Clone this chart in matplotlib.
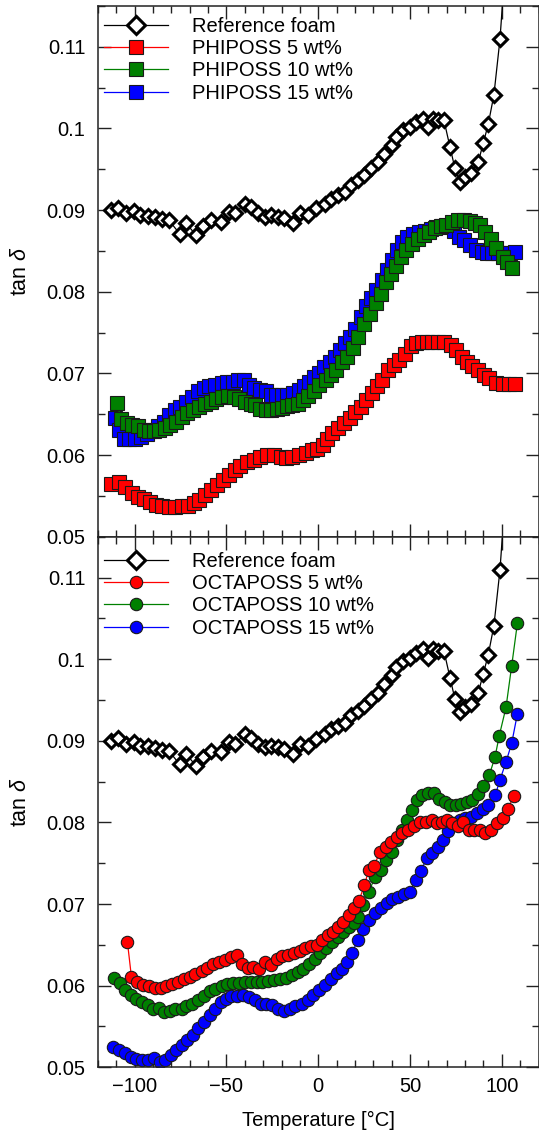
import matplotlib
matplotlib.use('Agg')
import matplotlib.pyplot as plt
from matplotlib.ticker import MultipleLocator, FuncFormatter

plt.rcParams['font.family'] = ['Liberation Sans', 'DejaVu Sans']
plt.rcParams['mathtext.fontset'] = 'custom'
plt.rcParams['mathtext.it'] = 'Liberation Sans:italic'
plt.rcParams['mathtext.rm'] = 'Liberation Sans'

# ---------------- data ----------------
x_ref = [-113, -109, -105, -100.5, -97, -93, -89, -85, -81.5, -75.5, -72, -66.5, -63, -58.5, -53,
         -48.5, -45.5, -40, -36.5, -33, -29, -25.5, -22, -18.5, -14, -10, -5.5, -1, 3.5, 7,
         10.5, 14.5, 18, 21.5, 25, 29, 32.5, 36, 40, 42.5, 46, 50, 53.5, 57, 60,
         62.5, 65, 68.5, 71.8, 74.5, 77.2, 80.0, 83.0, 87.2, 89.9, 92.6, 95.7, 99.0, 102.5]
y_ref = [0.0900, 0.0903, 0.0896, 0.0899, 0.0894, 0.0893, 0.0891, 0.0889, 0.0888, 0.0871, 0.0884, 0.0869, 0.0880, 0.0888, 0.0886,
         0.0898, 0.0896, 0.0908, 0.0904, 0.0896, 0.0892, 0.0894, 0.0892, 0.0890, 0.0884, 0.0896, 0.0894, 0.0902, 0.0908, 0.0914,
         0.0918, 0.0922, 0.0931, 0.0937, 0.0943, 0.0951, 0.0959, 0.0969, 0.0980, 0.0990, 0.0998, 0.1002, 0.1008, 0.1012, 0.1002,
         0.1012, 0.1010, 0.1010, 0.0977, 0.0951, 0.0935, 0.0941, 0.0945, 0.0959, 0.0982, 0.1005, 0.1041, 0.1109, 0.1220]

x_p5 = [-112.7, -108.7, -105.1, -101.5, -98.2, -95.1, -91.5, -88.4, -85.1, -81.5,
        -77.8, -74.2, -70.9, -67.8, -64.7, -61.5, -58.2, -55.1, -52.0, -48.7,
        -45.5, -42.4, -38.7, -35.1, -31.5, -27.8, -24.2, -20.5, -17.5, -14.2,
        -10.5, -6.9, -3.6, -0.5, 2.5, 4.9, 7.6, 10.9, 14.0, 17.1,
        20.0, 23.1, 25.8, 29.1, 32.2, 34.9, 38.2, 41.3, 44.0, 47.3,
        50.4, 53.1, 56.4, 59.5, 62.2, 65.5, 68.5, 72.2, 75.3, 78.5,
        81.3, 84.0, 87.3, 90.4, 93.1, 96.7, 100.4, 104.0, 107.3]
y_p5 = [0.0565, 0.0567, 0.0561, 0.0553, 0.0549, 0.0546, 0.0543, 0.0539, 0.0537, 0.0536,
        0.0536, 0.0537, 0.0538, 0.0541, 0.0545, 0.0551, 0.0557, 0.0563, 0.0569, 0.0576,
        0.0582, 0.0587, 0.0591, 0.0594, 0.0598, 0.0600, 0.0600, 0.0598, 0.0597, 0.0598,
        0.0600, 0.0603, 0.0606, 0.0608, 0.0612, 0.0620, 0.0627, 0.0633, 0.0639, 0.0645,
        0.0653, 0.0659, 0.0667, 0.0676, 0.0684, 0.0692, 0.0704, 0.0710, 0.0716, 0.0724,
        0.0733, 0.0737, 0.0739, 0.0739, 0.0739, 0.0738, 0.0738, 0.0735, 0.0729, 0.0720,
        0.0714, 0.0709, 0.0704, 0.0698, 0.0694, 0.0688, 0.0687, 0.0687, 0.0687]

x_p10 = [-109.8, -107.3, -104.2, -101.5, -98.2, -95.1, -92.4, -89.6, -86.5, -83.6,
         -80.5, -77.5, -74.5, -71.5, -68.4, -65.1, -61.8, -58.7, -55.6, -52.4,
         -49.1, -46.0, -43.3, -40.0, -36.9, -34.2, -31.5, -28.7, -25.5, -22.4,
         -19.6, -17.1, -14.2, -11.1, -8.4, -5.5, -2.4, 0.4, 4.0, 6.7,
         9.8, 13.1, 15.8, 18.9, 21.8, 24.9, 28.0, 31.3, 34.3, 36.7,
         39.5, 42.2, 44.9, 47.6, 51.3, 54.5, 57.6, 60.4, 63.6, 66.7,
         69.8, 73.1, 76.4, 79.5, 82.5, 85.5, 88.0, 90.9, 94.0, 97.1,
         100.4, 103.1, 105.8]
y_p10 = [0.0664, 0.0644, 0.0639, 0.0637, 0.0635, 0.0631, 0.0629, 0.0629, 0.0631, 0.0633,
         0.0637, 0.0641, 0.0647, 0.0651, 0.0655, 0.0659, 0.0662, 0.0665, 0.0669, 0.0671,
         0.0672, 0.0671, 0.0669, 0.0665, 0.0662, 0.0661, 0.0656, 0.0655, 0.0655, 0.0657,
         0.0658, 0.0660, 0.0661, 0.0663, 0.0667, 0.0672, 0.0679, 0.0686, 0.0692, 0.0698,
         0.0704, 0.0714, 0.0720, 0.0731, 0.0745, 0.0761, 0.0773, 0.0786, 0.0797, 0.0812,
         0.0822, 0.0831, 0.0843, 0.0851, 0.0859, 0.0865, 0.0869, 0.0873, 0.0878, 0.0880,
         0.0882, 0.0886, 0.0888, 0.0888, 0.0887, 0.0884, 0.0882, 0.0873, 0.0865, 0.0853,
         0.0843, 0.0837, 0.0829]

x_p15 = [-110.5, -108.7, -106.0, -102.9, -99.6, -96.4, -93.3, -90.2, -87.3, -84.2,
         -81.1, -78.2, -75.1, -72.0, -68.7, -65.5, -62.4, -59.3, -56.0, -52.7,
         -49.6, -46.5, -43.6, -40.5, -37.8, -35.1, -32.0, -28.7, -26.0, -22.9,
         -20.0, -16.9, -13.8, -10.5, -7.8, -5.1, -2.4, 0.4, 3.3, 6.2,
         9.1, 11.6, 14.5, 17.1, 20.0, 23.1, 25.8, 28.5, 31.3, 34.5,
         37.6, 40.4, 43.1, 45.8, 48.5, 51.6, 54.9, 58.2, 61.3, 64.4,
         67.6, 70.9, 74.0, 76.7, 79.5, 82.5, 85.8, 89.1, 92.2, 94.9,
         98.2, 101.3, 104.3, 107.3]
y_p15 = [0.0645, 0.0631, 0.0620, 0.0620, 0.0620, 0.0622, 0.0626, 0.0631, 0.0635, 0.0641,
         0.0649, 0.0655, 0.0659, 0.0665, 0.0671, 0.0678, 0.0682, 0.0684, 0.0686, 0.0688,
         0.0689, 0.0690, 0.0692, 0.0692, 0.0686, 0.0682, 0.0680, 0.0678, 0.0673, 0.0673,
         0.0673, 0.0674, 0.0676, 0.0680, 0.0684, 0.0690, 0.0695, 0.0701, 0.0708, 0.0714,
         0.0720, 0.0729, 0.0737, 0.0745, 0.0755, 0.0769, 0.0782, 0.0792, 0.0802, 0.0814,
         0.0827, 0.0839, 0.0851, 0.0861, 0.0867, 0.0871, 0.0873, 0.0875, 0.0877, 0.0879,
         0.0880, 0.0879, 0.0874, 0.0867, 0.0863, 0.0857, 0.0851, 0.0849, 0.0847, 0.0847,
         0.0847, 0.0847, 0.0848, 0.0849]

x_o5 = [-104.0, -101.8, -98.5, -95.5, -92.4, -89.1, -85.8, -82.7, -79.6, -76.4,
        -73.1, -70.0, -66.9, -63.6, -60.4, -57.3, -54.2, -50.9, -47.6, -44.0,
        -41.5, -38.2, -35.5, -32.4, -29.1, -25.8, -22.7, -19.6, -16.4, -13.1,
        -10.0, -7.3, -4.0, -0.9, 1.8, 5.1, 8.2, 10.9, 13.6, 16.7,
        19.6, 22.2, 25.1, 27.6, 30.5, 33.6, 36.7, 39.6, 42.7, 45.8,
        49.1, 52.4, 55.5, 58.5, 61.8, 64.5, 67.3, 70.0, 73.1, 76.4,
        79.1, 82.2, 85.1, 88.2, 90.9, 94.2, 97.3, 100.4, 103.3, 106.4]
y_o5 = [0.0654, 0.0611, 0.0605, 0.0601, 0.0599, 0.0597, 0.0597, 0.0599, 0.0602, 0.0605,
        0.0608, 0.0611, 0.0614, 0.0618, 0.0622, 0.0627, 0.0629, 0.0632, 0.0635, 0.0638,
        0.0627, 0.0622, 0.0623, 0.0620, 0.0629, 0.0625, 0.0633, 0.0636, 0.0638, 0.0640,
        0.0643, 0.0646, 0.0648, 0.0650, 0.0656, 0.0662, 0.0666, 0.0672, 0.0678, 0.0687,
        0.0695, 0.0704, 0.0723, 0.0742, 0.0747, 0.0764, 0.0770, 0.0776, 0.0782, 0.0787,
        0.0791, 0.0795, 0.0801, 0.0801, 0.0803, 0.0799, 0.0801, 0.0803, 0.0799, 0.0795,
        0.0801, 0.0791, 0.0791, 0.0791, 0.0787, 0.0791, 0.0799, 0.0805, 0.0816, 0.0832]

x_o10 = [-111.3, -108.2, -105.1, -102.2, -99.1, -96.0, -92.7, -90.0, -86.9, -84.0,
         -80.9, -77.8, -74.5, -71.8, -68.7, -65.5, -62.2, -59.1, -56.0, -52.7,
         -49.5, -46.4, -43.3, -40.0, -36.7, -33.6, -30.5, -27.3, -24.0, -20.9,
         -17.8, -14.5, -11.3, -8.2, -5.1, -1.8, 0.9, 4.0, 7.3, 10.5,
         13.6, 16.7, 19.6, 21.5, 24.5, 27.6, 30.9, 34.2, 36.7, 40.0,
         42.7, 45.5, 48.2, 50.9, 53.6, 56.7, 60.0, 63.3, 65.8, 69.1,
         71.8, 74.9, 77.8, 80.9, 83.6, 86.9, 90.0, 93.2, 96.3, 98.6,
         102.3, 105.4, 108.5]
y_o10 = [0.0610, 0.0603, 0.0595, 0.0589, 0.0584, 0.0580, 0.0576, 0.0572, 0.0573, 0.0568,
         0.0569, 0.0571, 0.0572, 0.0575, 0.0578, 0.0582, 0.0587, 0.0593, 0.0596, 0.0599,
         0.0602, 0.0603, 0.0603, 0.0604, 0.0605, 0.0605, 0.0605, 0.0606, 0.0607, 0.0608,
         0.0610, 0.0613, 0.0617, 0.0621, 0.0627, 0.0633, 0.0640, 0.0646, 0.0653, 0.0660,
         0.0666, 0.0672, 0.0677, 0.0684, 0.0699, 0.0715, 0.0733, 0.0742, 0.0754, 0.0764,
         0.0778, 0.0791, 0.0803, 0.0815, 0.0827, 0.0833, 0.0836, 0.0836, 0.0829, 0.0825,
         0.0821, 0.0821, 0.0823, 0.0825, 0.0827, 0.0835, 0.0844, 0.0858, 0.0880, 0.0906,
         0.0941, 0.0992, 0.1044]

x_o15 = [-111.8, -108.7, -105.5, -102.2, -99.1, -96.0, -92.7, -89.5, -86.4, -83.3,
         -80.4, -77.3, -74.2, -71.3, -68.2, -65.5, -62.2, -59.1, -56.0, -53.1,
         -50.0, -47.3, -44.0, -40.9, -37.8, -34.5, -31.3, -28.2, -25.1, -21.8,
         -18.5, -15.5, -12.4, -9.1, -5.8, -2.7, 0.4, 3.6, 6.9, 10.0,
         12.7, 15.5, 18.5, 21.5, 24.5, 27.6, 30.9, 34.2, 37.3, 40.4,
         43.6, 46.9, 50.0, 53.1, 56.0, 59.1, 61.8, 65.1, 68.2, 70.9,
         74.2, 77.3, 80.0, 83.3, 86.4, 90.0, 92.7, 96.4, 99.0, 102.3,
         105.4, 108.5]
y_o15 = [0.0525, 0.0521, 0.0517, 0.0513, 0.0510, 0.0509, 0.0509, 0.0511, 0.0507, 0.0509,
         0.0515, 0.0521, 0.0527, 0.0533, 0.0540, 0.0548, 0.0556, 0.0564, 0.0572, 0.0580,
         0.0584, 0.0587, 0.0587, 0.0589, 0.0586, 0.0582, 0.0578, 0.0578, 0.0576, 0.0572,
         0.0569, 0.0572, 0.0575, 0.0578, 0.0583, 0.0589, 0.0595, 0.0601, 0.0608, 0.0615,
         0.0621, 0.0629, 0.0640, 0.0656, 0.0669, 0.0680, 0.0689, 0.0695, 0.0701, 0.0706,
         0.0709, 0.0712, 0.0715, 0.0729, 0.0741, 0.0756, 0.0763, 0.0770, 0.0778, 0.0789,
         0.0799, 0.0803, 0.0805, 0.0807, 0.0811, 0.0817, 0.0821, 0.0833, 0.0852, 0.0874,
         0.0897, 0.0933]

labels_top = ['Reference foam', 'PHIPOSS 5 wt%', 'PHIPOSS 10 wt%', 'PHIPOSS 15 wt%']
labels_bot = ['Reference foam', 'OCTAPOSS 5 wt%', 'OCTAPOSS 10 wt%', 'OCTAPOSS 15 wt%']
xlabel = 'Temperature [°C]'
ylabel = r'tan $\mathit{\delta}$'

RED, GREEN, BLUE = '#FF0000', '#008000', '#0000FF'
FS = 14.5

fig = plt.figure(figsize=(5.39, 11.33), dpi=100)
W, H = 539.0, 1133.0
L, Rr = 98 / W, 538.5 / W
ax1 = fig.add_axes([L, 1 - 536.7 / H, Rr - L, (536.7 - 6) / H])
ax2 = fig.add_axes([L, 1 - 1067.3 / H, Rr - L, (1067.3 - 536.7) / H])

ref_kw = dict(marker='D', color='black', mfc='white', mec='black', mew=2.2, ms=7.3, lw=0.9)


def series(ax, x, y, c, m, ms, label):
    return ax.plot(x, y, marker=m, color=c, mfc=c, mec='#1a1a1a', mew=0.8, ms=ms,
                   lw=0.9, label=label)[0]


def style(ax, bottom_labels):
    ax.set_xlim(-120, 120)
    ax.set_ylim(0.05, 0.115)
    ax.xaxis.set_major_locator(MultipleLocator(50))
    ax.xaxis.set_minor_locator(MultipleLocator(10))
    ax.yaxis.set_major_locator(MultipleLocator(0.01))
    ax.yaxis.set_minor_locator(MultipleLocator(0.005))
    ax.yaxis.set_major_formatter(FuncFormatter(lambda v, p: f'{v:g}'))
    ax.tick_params(which='both', direction='in', top=True, right=True, width=1.0,
                   color='#222222', labelsize=FS)
    ax.tick_params(which='major', length=9.4)
    ax.tick_params(which='minor', length=5)
    ax.tick_params(axis='y', pad=9)
    ax.tick_params(axis='x', pad=7, labelbottom=bottom_labels)
    for s in ax.spines.values():
        s.set_linewidth(1.1)
        s.set_color('#222222')
    ax.set_ylabel(ylabel, fontsize=15.5)
    ax.yaxis.set_label_coords(-0.153, 0.5)


# top panel
h_ref = ax1.plot(x_ref, y_ref, label=labels_top[0], **ref_kw)[0]
h_p5 = series(ax1, x_p5, y_p5, RED, 's', 9.8, labels_top[1])
h_p15 = series(ax1, x_p15, y_p15, BLUE, 's', 9.8, labels_top[3])
h_p10 = series(ax1, x_p10, y_p10, GREEN, 's', 9.8, labels_top[2])
style(ax1, False)

# bottom panel
h_ref2 = ax2.plot(x_ref, y_ref, label=labels_bot[0], **ref_kw)[0]
h_o15 = series(ax2, x_o15, y_o15, BLUE, 'o', 8.9, labels_bot[3])
h_o10 = series(ax2, x_o10, y_o10, GREEN, 'o', 8.9, labels_bot[2])
h_o5 = series(ax2, x_o5, y_o5, RED, 'o', 8.9, labels_bot[1])
style(ax2, True)
ax2.set_xlabel(xlabel, fontsize=FS, labelpad=11)

leg_kw = dict(loc='upper left', frameon=False, fontsize=FS, borderpad=0, borderaxespad=0,
              handlelength=3.17, handletextpad=1.19, labelspacing=0.17)
leg1 = ax1.legend([h_ref, h_p5, h_p10, h_p15], labels_top,
                  bbox_to_anchor=(0.0136, 0.980), **leg_kw)
leg2 = ax2.legend([h_ref2, h_o5, h_o10, h_o15], labels_bot,
                  bbox_to_anchor=(0.0136, 0.972), **leg_kw)
for leg in (leg1, leg2):
    leg.legend_handles[0].set_markersize(9.2)

fig.savefig('out.png', dpi=100)
